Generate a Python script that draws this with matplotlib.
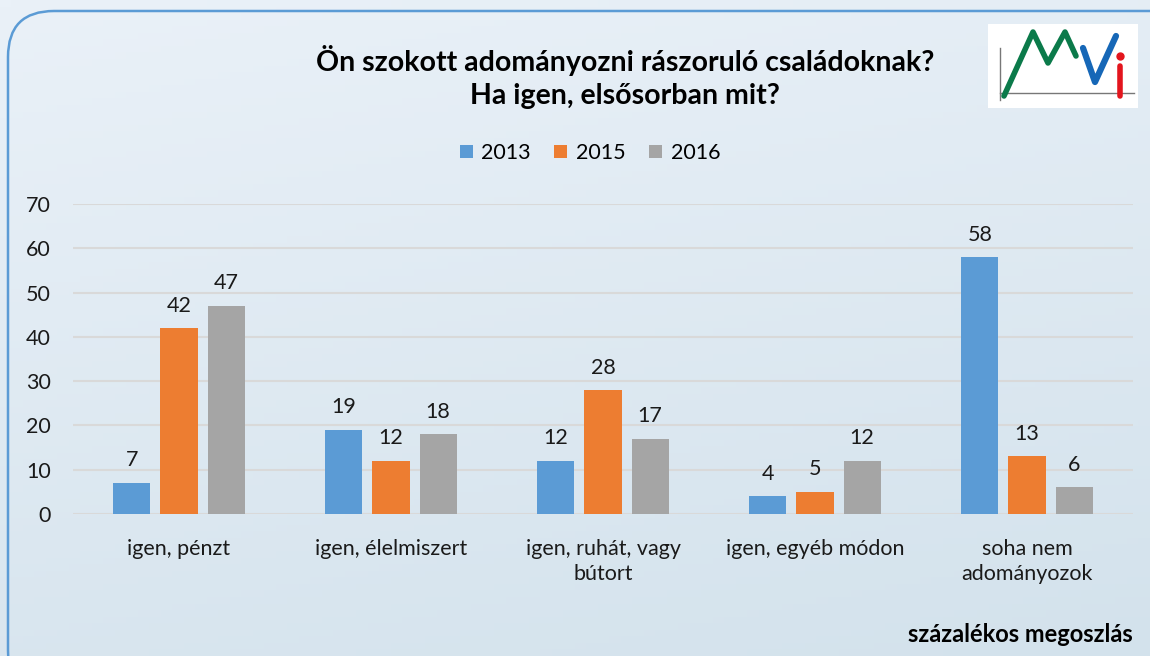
'''
adományozási szokások - oszlopdiagram
'''
import numpy as np
import matplotlib.pyplot as plt
from matplotlib.patches import FancyBboxPatch, Rectangle

plt.rcParams['font.family'] = ['Lato', 'DejaVu Sans']

categories = ['igen, pénzt', 'igen, élelmiszert', 'igen, ruhát, vagy\nbútort',
              'igen, egyéb módon', 'soha nem\nadományozok']
years = ['2013', '2015', '2016']
v2013 = [7, 19, 12, 4, 58]
v2015 = [42, 12, 28, 5, 13]
v2016 = [47, 18, 17, 12, 6]
colors = ['#5b9bd5', '#ed7d31', '#a5a5a5']

fig = plt.figure(figsize=(11.5, 6.56), dpi=100)

# background gradient
bg = fig.add_axes([0, 0, 1, 1], zorder=-10)
yy, xx = np.mgrid[0:1:100j, 0:1:100j]
t = 0.75 * yy + 0.25 * xx
c0 = np.array([0xea, 0xf1, 0xf8]) / 255
c1 = np.array([0xd3, 0xe2, 0xec]) / 255
img = c0[None, None, :] * (1 - t[..., None]) + c1[None, None, :] * t[..., None]
bg.imshow(img, extent=[0, 1, 0, 1], aspect='auto', origin='upper')
bg.set_xlim(0, 1)
bg.set_ylim(0, 1)
bg.axis('off')

# rounded border
W, H = 1150, 656
border = FancyBboxPatch((8 / W, -40 / H), 1200 / W, (656 - 11 + 40) / H,
                        boxstyle='round,pad=0,rounding_size=0.04',
                        transform=bg.transAxes, fill=False,
                        edgecolor='#5b9bd5', linewidth=1.8,
                        mutation_aspect=W / H)
bg.add_patch(border)

fs = 15.5
ax = fig.add_axes([73 / W, 1 - 514 / H, (1133 - 73) / W, (514 - 204) / H])
ax.set_facecolor('none')
x = np.arange(len(categories))
step = 0.222
width = 0.175
for i, (vals, yr) in enumerate(zip([v2013, v2015, v2016], years)):
    bars = ax.bar(x + (i - 1) * step, vals, width, color=colors[i], label=yr, zorder=3)
    for b, v in zip(bars, vals):
        ax.annotate(str(v), (b.get_x() + b.get_width() / 2, v),
                    xytext=(0, 9), textcoords='offset points',
                    ha='center', va='bottom', fontsize=fs, color='#1a1a1a')

ax.set_xlim(-0.5, len(categories) - 0.5)
ax.set_ylim(0, 70)
ax.set_yticks(range(0, 71, 10))
ax.yaxis.grid(True, color='#d9d9d9', linewidth=1.5, zorder=0)
ax.set_xticks(x)
ax.set_xticklabels(categories, fontsize=fs, color='#1a1a1a', linespacing=1.3)
ax.tick_params(axis='both', length=0, labelsize=fs, colors='#1a1a1a')
ax.tick_params(axis='x', pad=18)
ax.tick_params(axis='y', pad=16)
for s in ax.spines.values():
    s.set_visible(False)

fig.text(625 / W, 1 - 77 / H, 'Ön szokott adományozni rászoruló családoknak?\nHa igen, elsősorban mit?',
         ha='center', va='center', fontsize=20.5, fontweight='bold', linespacing=1.3)
fig.text(1133 / W, 1 - 635 / H, 'százalékos megoszlás', ha='right', va='center',
         fontsize=17, fontweight='bold')

leg = fig.legend(loc='center', bbox_to_anchor=(590 / W, 1 - 153 / H), ncol=3,
                 frameon=False, fontsize=fs, handlelength=0.6, handleheight=0.6,
                 columnspacing=1.1, handletextpad=0.4)

# logo
lg = fig.add_axes([988 / W, 1 - 108 / H, 150 / W, 84 / H])
lg.set_xlim(0, 150)
lg.set_ylim(0, 84)
lg.add_patch(Rectangle((0, 0), 150, 84, color='white'))
lg.plot([12, 146], [15, 15], color='#777777', lw=1)
lg.plot([12, 12], [8, 60], color='#777777', lw=1)
lg.plot([16, 45, 60, 77, 88], [12, 76, 45, 76, 52], color='#0b7a4a', lw=4,
        solid_capstyle='round', solid_joinstyle='round')
lg.plot([95, 107, 128], [60, 26, 72], color='#1667b7', lw=4.5,
        solid_capstyle='round', solid_joinstyle='round')
lg.plot([132, 132], [12, 42], color='#e3151d', lw=4, solid_capstyle='round')
lg.plot([132], [52], 'o', color='#e3151d', ms=5)
lg.axis('off')

fig.savefig('out.png', dpi=100)
